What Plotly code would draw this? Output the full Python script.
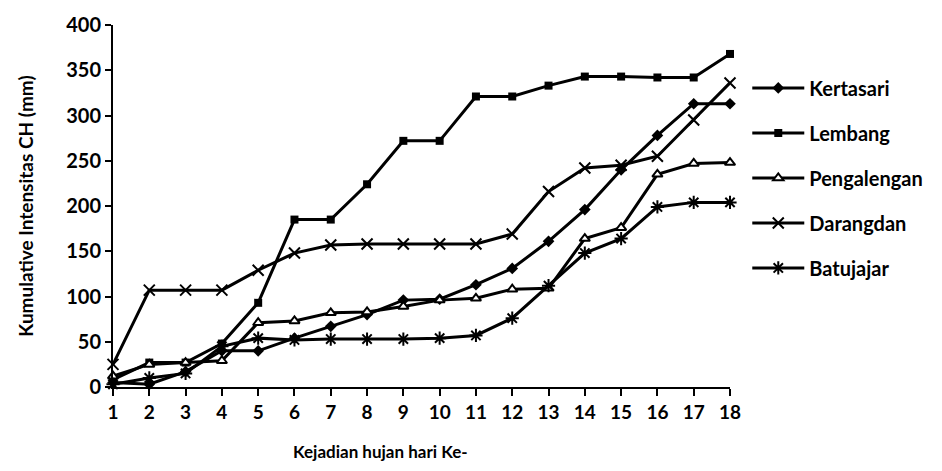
import plotly.graph_objects as go

# Rain event number (day index)
days = list(range(1, 19))

# Cumulative rainfall intensity (mm) per station
kertasari = [5, 3, 17, 40, 40, 54, 67, 80, 96, 97, 113, 131, 161, 196, 240, 278, 313, 313]
lembang = [8, 27, 27, 48, 93, 185, 185, 224, 272, 272, 321, 321, 333, 343, 343, 342, 342, 368]
pengalengan = [12, 25, 27, 29, 71, 73, 82, 83, 89, 96, 98, 108, 109, 164, 176, 235, 247, 248]
darangdan = [25, 107, 107, 107, 129, 148, 157, 158, 158, 158, 158, 169, 216, 242, 245, 255, 295, 336]
batujajar = [3, 10, 15, 45, 54, 52, 53, 53, 53, 54, 57, 76, 112, 148, 164, 199, 204, 204]

y_ticks = list(range(0, 401, 50))

FONT = "Lato"
W = "bold"

series = [
    ("Kertasari", kertasari, dict(symbol="diamond", size=9, color="black")),
    ("Lembang", lembang, dict(symbol="square", size=8, color="black")),
    ("Pengalengan", pengalengan, dict(symbol="triangle-up", size=9, color="white",
                                       line=dict(color="black", width=2))),
    ("Darangdan", darangdan, dict(symbol="x-thin", size=11,
                                   line=dict(color="black", width=2))),
    ("Batujajar", batujajar, dict(symbol="asterisk", size=11,
                                   line=dict(color="black", width=2))),
]

fig = go.Figure()
for name, vals, marker in series:
    fig.add_trace(go.Scatter(
        x=days, y=vals, name=name, mode="lines+markers",
        line=dict(color="black", width=3),
        marker=marker, cliponaxis=False, legendgroup=name,
    ))

fig.update_layout(
    width=942, height=471,
    margin=dict(l=113, r=212, t=20, b=84),
    paper_bgcolor="white", plot_bgcolor="white",
    font=dict(family=FONT, color="black", size=18, weight=W),
    showlegend=True,
    legend=dict(
        x=1.028, y=0.88, xanchor="left", yanchor="top",
        itemwidth=52,
        font=dict(family=FONT, size=20, weight=W, color="black"),
        tracegroupgap=16, bgcolor="rgba(0,0,0,0)",
    ),
    xaxis=dict(
        range=[1, 18], tickmode="array", tickvals=days,
        ticktext=[str(d) for d in days],
        showline=True, linecolor="black", linewidth=2,
        ticks="outside", ticklen=7, tickwidth=2, tickcolor="black",
        showgrid=False, zeroline=False,
        tickfont=dict(family=FONT, size=19, weight=W),
    ),
    yaxis=dict(
        range=[0, 400], tickmode="array", tickvals=y_ticks,
        showline=True, linecolor="black", linewidth=2,
        ticks="outside", ticklen=6, tickwidth=2, tickcolor="black",
        showgrid=False, zeroline=False,
        tickfont=dict(family=FONT, size=20, weight=W),
        title=dict(text="Kumulative Intensitas CH (mm)",
                   font=dict(family=FONT, size=19, weight=W), standoff=28),
    ),
    annotations=[dict(
        text="Kejadian hujan hari Ke-", xref="paper", yref="paper",
        x=(380 - 113) / 617, y=-(452 - 387) / 367,
        xanchor="center", yanchor="middle", showarrow=False,
        font=dict(family=FONT, size=17, weight=W),
    )],
)

fig.write_html("out.html")
